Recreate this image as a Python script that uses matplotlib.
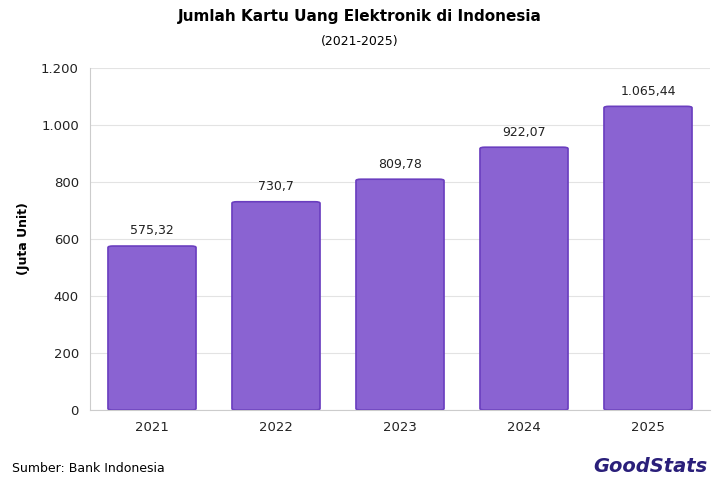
import matplotlib
matplotlib.use("Agg")
import matplotlib.pyplot as plt
from matplotlib.patches import FancyBboxPatch

years = ["2021", "2022", "2023", "2024", "2025"]
values = [575.32, 730.7, 809.78, 922.07, 1065.44]
labels = ["575,32", "730,7", "809,78", "922,07", "1.065,44"]
yticks = [0, 200, 400, 600, 800, 1000, 1200]
yticklabels = ["0", "200", "400", "600", "800", "1.000", "1.200"]

fig = plt.figure(figsize=(7.2, 4.8), dpi=100)
ax = fig.add_axes([90/720, 70/480, 620/720, 342/480])
w = 0.71
for i, v in enumerate(values):
    p = FancyBboxPatch((i - w/2, 0), w, v, boxstyle="round,pad=0,rounding_size=0.04",
                       mutation_aspect=1200/5*0.55, facecolor="#8a63d2",
                       edgecolor="#6a3ebf", linewidth=1.2)
    ax.add_patch(p)
    ax.text(i, v + 30, labels[i], ha="center", va="bottom", fontsize=9, color="#222")
ax.set_xlim(-0.5, 4.5)
ax.set_ylim(0, 1200)
ax.set_xticks(range(5))
ax.set_xticklabels(years, fontsize=9.5)
ax.set_yticks(yticks)
ax.set_yticklabels(yticklabels, fontsize=9.5)
ax.grid(axis="y", color="#e3e3e3", linewidth=0.8)
ax.set_axisbelow(True)
for s in ["top", "right"]:
    ax.spines[s].set_visible(False)
ax.spines["left"].set_color("#cccccc")
ax.spines["bottom"].set_color("#cccccc")
ax.tick_params(length=0, pad=8, colors="#222")
ax.set_ylabel("(Juta Unit)", fontsize=9, fontweight="bold")
ax.yaxis.set_label_coords(-0.097, 0.5)
fig.text(0.5, 1 - 16/480, "Jumlah Kartu Uang Elektronik di Indonesia", ha="center", va="center",
         fontsize=11, fontweight="bold")
fig.text(0.5, 1 - 42/480, "(2021-2025)", ha="center", va="center", fontsize=9)
fig.text(12/720, 1 - 468/480, "Sumber: Bank Indonesia", ha="left", va="center", fontsize=9)
fig.text(708/720, 1 - 466/480, "GoodStats", ha="right", va="center", fontsize=14,
         fontweight="bold", color="#2a1f7a", style="italic")
fig.savefig("out.png", dpi=100)
